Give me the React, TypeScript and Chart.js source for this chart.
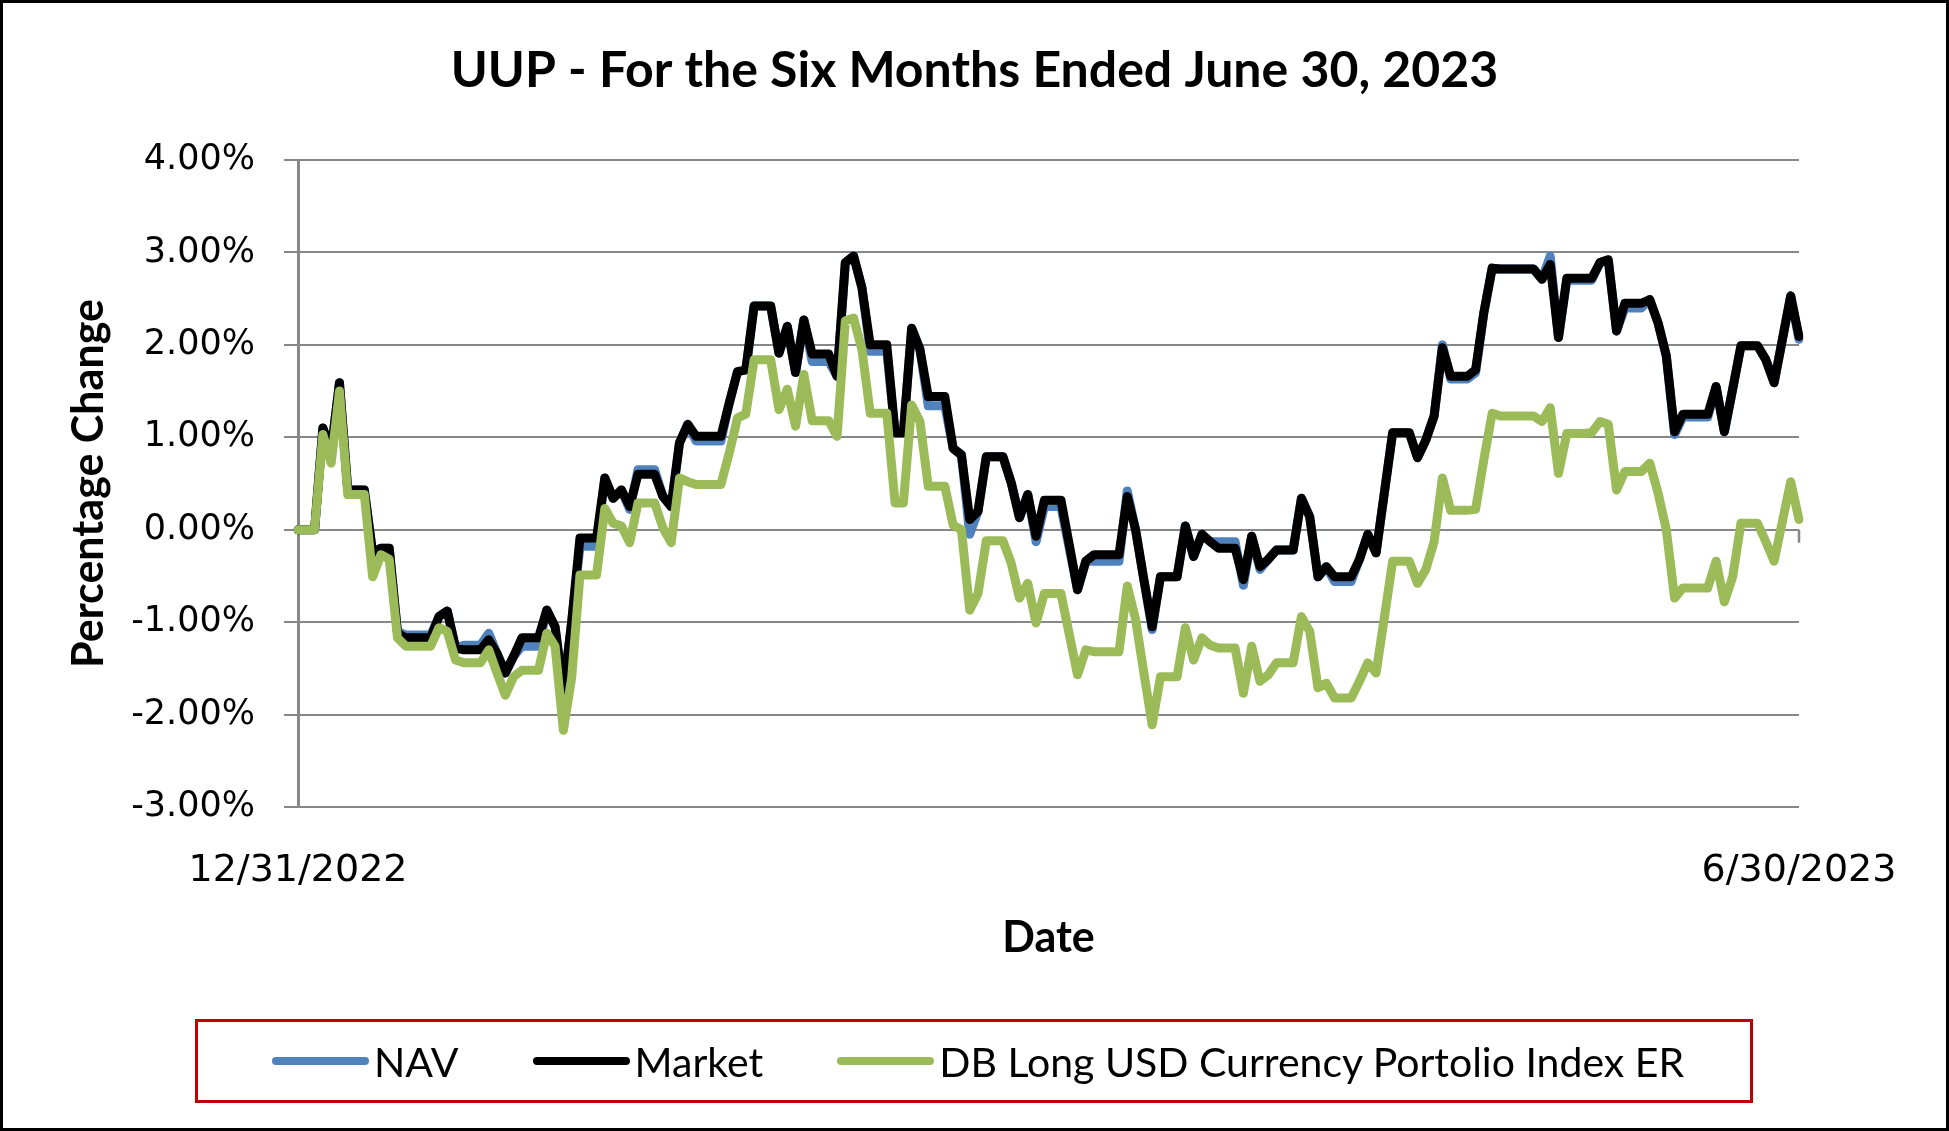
import { useEffect, useRef } from "react";
import { Chart, registerables } from "chart.js";

Chart.register(...registerables);

const TITLE = "UUP - For the Six Months Ended June 30, 2023";
const X_TITLE = "Date";
const Y_TITLE = "Percentage Change";
const SERIES_NAMES = ["NAV", "Market", "DB Long USD Currency Portolio Index ER"];
const SERIES_COLORS = ["#4F81BD", "#000000", "#9BBB59"];
const Y_MIN = -3;
const Y_MAX = 4;
const Y_STEP = 1;

// Daily (calendar-day) percentage change since 12/31/2022; one row per week (Sat..Fri)
const NAV = [
  0, 0, 0, 1.10, 0.85, 1.59, 0.43,
  0.43, 0.43, -0.25, -0.20, -0.20, -1.10, -1.14,
  -1.14, -1.14, -1.14, -0.94, -0.88, -1.28, -1.25,
  -1.25, -1.25, -1.12, -1.34, -1.55, -1.37, -1.26,
  -1.26, -1.26, -0.87, -1.05, -1.75, -1.00, -0.18,
  -0.18, -0.18, 0.56, 0.34, 0.43, 0.22, 0.65,
  0.65, 0.65, 0.36, 0.25, 0.94, 1.14, 0.96,
  0.96, 0.96, 0.96, 1.37, 1.71, 1.73, 2.42,
  2.42, 2.42, 1.91, 2.20, 1.70, 2.27, 1.82,
  1.82, 1.82, 1.66, 2.89, 2.96, 2.62, 1.93,
  1.93, 1.93, 1.05, 1.05, 2.18, 1.95, 1.34,
  1.34, 1.34, 0.88, 0.81, -0.05, 0.20, 0.79,
  0.79, 0.79, 0.51, 0.13, 0.38, -0.13, 0.25,
  0.25, 0.25, -0.20, -0.65, -0.34, -0.34, -0.34,
  -0.34, -0.34, 0.42, 0.00, -0.54, -1.08, -0.51,
  -0.51, -0.51, 0.04, -0.29, -0.05, -0.13, -0.13,
  -0.13, -0.13, -0.60, -0.07, -0.43, -0.32, -0.22,
  -0.22, -0.22, 0.34, 0.14, -0.51, -0.40, -0.56,
  -0.56, -0.56, -0.32, -0.05, -0.25, 0.40, 1.05,
  1.05, 1.05, 0.78, 0.97, 1.23, 2.00, 1.63,
  1.63, 1.63, 1.70, 2.35, 2.83, 2.82, 2.82,
  2.82, 2.82, 2.82, 2.71, 2.96, 2.08, 2.70,
  2.70, 2.70, 2.70, 2.89, 2.92, 2.15, 2.40,
  2.40, 2.40, 2.49, 2.24, 1.88, 1.03, 1.22,
  1.22, 1.22, 1.22, 1.55, 1.06, 1.52, 1.99,
  1.99, 1.99, 1.84, 1.59, 2.06, 2.53, 2.06,
];

const MARKET = [
  0, 0, 0, 1.10, 0.85, 1.59, 0.43,
  0.43, 0.43, -0.25, -0.20, -0.20, -1.12, -1.17,
  -1.17, -1.17, -1.17, -0.94, -0.88, -1.28, -1.30,
  -1.30, -1.30, -1.19, -1.34, -1.55, -1.37, -1.17,
  -1.17, -1.17, -0.87, -1.05, -1.75, -1.00, -0.09,
  -0.09, -0.09, 0.56, 0.34, 0.43, 0.25, 0.60,
  0.60, 0.60, 0.36, 0.25, 0.94, 1.14, 1.01,
  1.01, 1.01, 1.01, 1.37, 1.71, 1.73, 2.42,
  2.42, 2.42, 1.91, 2.20, 1.70, 2.27, 1.90,
  1.90, 1.90, 1.66, 2.89, 2.96, 2.62, 2.00,
  2.00, 2.00, 1.05, 1.05, 2.18, 1.95, 1.44,
  1.44, 1.44, 0.88, 0.81, 0.11, 0.20, 0.79,
  0.79, 0.79, 0.51, 0.13, 0.38, -0.07, 0.32,
  0.32, 0.32, -0.16, -0.65, -0.34, -0.27, -0.27,
  -0.27, -0.27, 0.36, 0.00, -0.54, -1.05, -0.51,
  -0.51, -0.51, 0.04, -0.29, -0.05, -0.13, -0.20,
  -0.20, -0.20, -0.54, -0.07, -0.40, -0.32, -0.22,
  -0.22, -0.22, 0.34, 0.14, -0.51, -0.40, -0.51,
  -0.51, -0.51, -0.32, -0.05, -0.25, 0.40, 1.05,
  1.05, 1.05, 0.78, 0.97, 1.23, 1.97, 1.66,
  1.66, 1.66, 1.73, 2.35, 2.83, 2.82, 2.82,
  2.82, 2.82, 2.82, 2.71, 2.87, 2.08, 2.72,
  2.72, 2.72, 2.72, 2.89, 2.92, 2.15, 2.45,
  2.45, 2.45, 2.49, 2.24, 1.88, 1.06, 1.25,
  1.25, 1.25, 1.25, 1.55, 1.06, 1.52, 1.99,
  1.99, 1.99, 1.84, 1.59, 2.06, 2.53, 2.09,
];

const INDEX_ER = [
  0, 0, 0, 1.03, 0.72, 1.50, 0.38,
  0.38, 0.38, -0.51, -0.27, -0.32, -1.17, -1.26,
  -1.26, -1.26, -1.26, -1.06, -1.10, -1.41, -1.44,
  -1.44, -1.44, -1.30, -1.55, -1.79, -1.59, -1.52,
  -1.52, -1.52, -1.12, -1.26, -2.17, -1.60, -0.49,
  -0.49, -0.49, 0.23, 0.07, 0.04, -0.14, 0.29,
  0.29, 0.29, 0.02, -0.14, 0.56, 0.52, 0.49,
  0.49, 0.49, 0.49, 0.83, 1.21, 1.25, 1.84,
  1.84, 1.84, 1.30, 1.52, 1.12, 1.68, 1.18,
  1.18, 1.18, 1.01, 2.26, 2.29, 1.95, 1.26,
  1.26, 1.26, 0.29, 0.29, 1.35, 1.17, 0.47,
  0.47, 0.47, 0.05, 0.00, -0.87, -0.69, -0.12,
  -0.12, -0.12, -0.36, -0.74, -0.58, -1.01, -0.69,
  -0.69, -0.69, -1.13, -1.57, -1.30, -1.32, -1.32,
  -1.32, -1.32, -0.61, -0.97, -1.55, -2.11, -1.59,
  -1.59, -1.59, -1.06, -1.41, -1.17, -1.25, -1.28,
  -1.28, -1.28, -1.77, -1.26, -1.64, -1.57, -1.44,
  -1.44, -1.44, -0.94, -1.10, -1.71, -1.66, -1.82,
  -1.82, -1.82, -1.64, -1.44, -1.55, -0.95, -0.34,
  -0.34, -0.34, -0.58, -0.43, -0.13, 0.56, 0.21,
  0.21, 0.21, 0.22, 0.76, 1.26, 1.23, 1.23,
  1.23, 1.23, 1.23, 1.17, 1.32, 0.61, 1.04,
  1.04, 1.04, 1.05, 1.17, 1.14, 0.43, 0.63,
  0.63, 0.63, 0.72, 0.40, 0.00, -0.74, -0.63,
  -0.63, -0.63, -0.63, -0.34, -0.78, -0.51, 0.07,
  0.07, 0.07, -0.13, -0.34, 0.09, 0.52, 0.11,
];

function buildDateLabels(count: number): string[] {
  const out: string[] = [];
  const d = new Date(2022, 11, 31);
  for (let i = 0; i < count; i++) {
    out.push(`${d.getMonth() + 1}/${d.getDate()}/${d.getFullYear()}`);
    d.setDate(d.getDate() + 1);
  }
  return out;
}
const DATES = buildDateLabels(MARKET.length);

const GRID_GRAY = "#878787";
const TEXT_FONT = "Lato, 'Open Sans', sans-serif";
const TICK_FONT = "'DejaVu Sans', Verdana, sans-serif";

const axisEndTick = {
  id: "axisEndTick",
  beforeDatasetsDraw(chart: any) {
    const { ctx, scales } = chart;
    const x = scales.x;
    const y = scales.y;
    const px = x.getPixelForValue(DATES.length - 1);
    const py = y.getPixelForValue(0);
    ctx.save();
    ctx.strokeStyle = GRID_GRAY;
    ctx.lineWidth = 2.5;
    ctx.beginPath();
    ctx.moveTo(px, py);
    ctx.lineTo(px, py + 13);
    ctx.stroke();
    ctx.restore();
  },
};

export default function App() {
  const canvasRef = useRef<HTMLCanvasElement | null>(null);

  useEffect(() => {
    if (!canvasRef.current) return;
    const mk = (label: string, data: number[], color: string) => ({
      label,
      data,
      borderColor: color,
      backgroundColor: color,
      borderWidth: 9,
      pointRadius: 0,
      tension: 0,
      borderJoinStyle: "round" as const,
      borderCapStyle: "round" as const,
      fill: false,
      yAxisID: "y",
    });
    const chart = new Chart(canvasRef.current, {
      type: "line",
      data: {
        labels: DATES,
        datasets: [
          mk(SERIES_NAMES[2], INDEX_ER, SERIES_COLORS[2]),
          mk(SERIES_NAMES[1], MARKET, SERIES_COLORS[1]),
          mk(SERIES_NAMES[0], NAV, SERIES_COLORS[0]),
        ],
      },
      options: {
        animation: false,
        responsive: true,
        maintainAspectRatio: false,
        layout: { padding: 0 },
        plugins: {
          legend: { display: false },
          tooltip: { enabled: false },
          title: {
            display: true,
            text: TITLE,
            color: "#000",
            font: { family: TEXT_FONT, weight: "bold", size: 50, lineHeight: 1.2 },
            padding: { top: 41, bottom: 59 },
          },
        },
        scales: {
          x: {
            type: "category",
            grid: { display: false, drawTicks: false },
            border: { display: false },
            ticks: {
              autoSkip: false,
              maxRotation: 0,
              minRotation: 0,
              padding: 41,
              color: "#000",
              font: { family: TICK_FONT, size: 38, lineHeight: 1.2 },
            },
            afterBuildTicks: (s: any) => {
              const t = s.ticks;
              s.ticks = [t[0], t[t.length - 1]];
            },
            afterFit: (s: any) => {
              s.height = 324;
            },
            title: {
              display: true,
              text: X_TITLE,
              color: "#000",
              font: { family: TEXT_FONT, weight: "bold", size: 43, lineHeight: 1.2 },
              padding: { top: 0, bottom: 167 },
            },
          },
          y: {
            position: "left",
            min: Y_MIN,
            max: Y_MAX,
            ticks: {
              stepSize: Y_STEP,
              padding: 29,
              color: "#000",
              font: { family: TICK_FONT, size: 35, lineHeight: 1.2 },
              callback: (v: any) => `${Number(v).toFixed(2)}%`,
            },
            grid: {
              color: GRID_GRAY,
              lineWidth: 2,
              tickLength: 14,
              tickColor: GRID_GRAY,
              tickWidth: 2,
            },
            border: { display: true, color: GRID_GRAY, width: 3 },
            afterFit: (s: any) => {
              s.width = 298;
            },
            title: {
              display: true,
              text: Y_TITLE,
              color: "#000",
              font: { family: TEXT_FONT, weight: "bold", size: 43, lineHeight: 1.2 },
              padding: { top: 63, bottom: 0 },
            },
          },
          yRightSpace: {
            position: "right",
            display: true,
            ticks: { display: false },
            grid: { display: false, drawTicks: false },
            border: { display: false },
            title: { display: false },
            afterFit: (s: any) => {
              s.width = 150;
            },
          },
        },
      },
      plugins: [axisEndTick],
    } as any);
    return () => chart.destroy();
  }, []);

  return (
    <div
      style={{
        position: "fixed",
        left: 0,
        top: 0,
        width: 1949,
        height: 1131,
        background: "#fff",
        overflow: "hidden",
      }}
    >
      <canvas ref={canvasRef} style={{ width: 1949, height: 1131, display: "block" }} />
      <div
        style={{
          position: "absolute",
          left: 195,
          top: 1019,
          width: 1558,
          height: 84,
          border: "3px solid #C00000",
          boxSizing: "border-box",
          display: "flex",
          alignItems: "center",
          paddingLeft: 74,
          fontFamily: TEXT_FONT,
          fontSize: 41,
          lineHeight: 1,
          color: "#000",
          whiteSpace: "nowrap",
        }}
      >
        {SERIES_NAMES.map((name, i) => (
          <div
            key={name}
            style={{ display: "flex", alignItems: "center", marginRight: 74, flexShrink: 0 }}
          >
            <span
              style={{
                display: "inline-block",
                width: 97,
                height: 8,
                borderRadius: 4,
                background: SERIES_COLORS[i],
                marginRight: 5,
                flexShrink: 0,
              }}
            />
            <span>{name}</span>
          </div>
        ))}
      </div>
      <div
        style={{
          position: "absolute",
          inset: 0,
          border: "3px solid #000",
          boxSizing: "border-box",
          pointerEvents: "none",
        }}
      />
    </div>
  );
}
